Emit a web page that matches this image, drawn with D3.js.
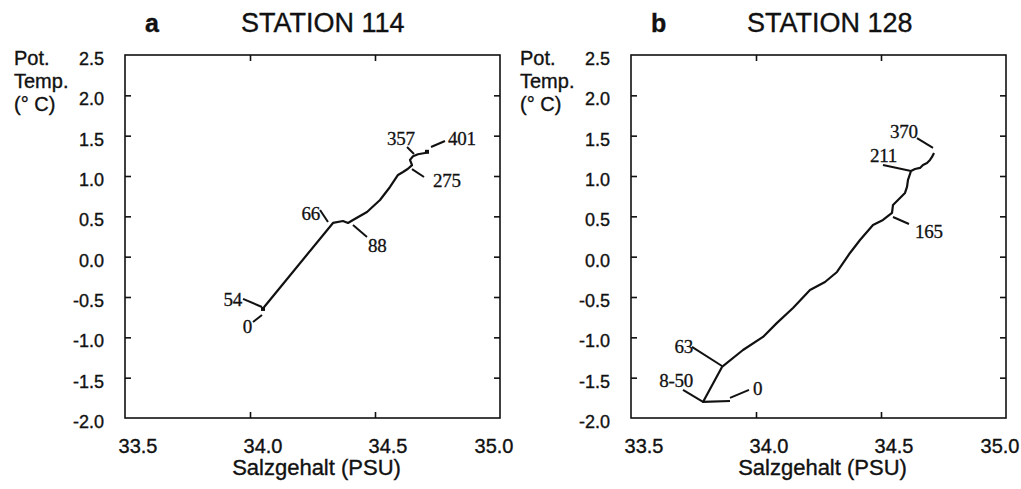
<!DOCTYPE html>
<html>
<head>
<meta charset="utf-8">
<script src="https://cdn.jsdelivr.net/npm/d3@7.9.0/dist/d3.min.js"></script>
<style>
  body { margin: 0; background: #fff; }
  svg { display: block; }
  .sans { font-family: "Liberation Sans", Arial, Helvetica, sans-serif; fill: #111; stroke: #111; stroke-width: 0.35; }
  .serif { font-family: "Liberation Serif", "Times New Roman", serif; fill: #111; stroke: #111; stroke-width: 0.3; }
</style>
</head>
<body>
<svg id="chart" width="1021" height="489"></svg>
<script>
// axes
const salinityTicks = [33.5, 34.0, 34.5, 35.0];
const tempTicks = [2.5, 2.0, 1.5, 1.0, 0.5, 0.0, -0.5, -1.0, -1.5, -2.0];

// station 114: T-S curve (surface -> deep)
const st114Salinity = [34.052, 34.06, 34.332, 34.372, 34.392, 34.412, 34.468, 34.52, 34.56, 34.592, 34.612, 34.632, 34.648, 34.64, 34.652, 34.672, 34.70, 34.708];
const st114Temp     = [-0.648, -0.611, 0.418, 0.442, 0.418, 0.455, 0.554, 0.703, 0.864, 1.013, 1.05, 1.09, 1.135, 1.20, 1.245, 1.27, 1.285, 1.30];
// depth labels (m) with leader lines
const st114Depths   = ["0", "54", "66", "88", "275", "357", "401"];
const st114LabelS   = [34.008, 33.968, 34.28, 34.472, 34.732, 34.548, 34.792];
const st114LabelT   = [-0.946, -0.611, 0.455, 0.058, 0.864, 1.385, 1.385];
const st114Anchor   = ["end", "end", "end", "start", "start", "start", "start"];
const st114LeadS1   = [34.012, 33.972, 34.28, 34.412, 34.648, 34.628, 34.724];
const st114LeadT1   = [-0.81, -0.524, 0.579, 0.393, 1.085, 1.36, 1.36];
const st114LeadS2   = [34.048, 34.048, 34.312, 34.468, 34.696, 34.656, 34.78];
const st114LeadT2   = [-0.723, -0.624, 0.43, 0.244, 0.988, 1.273, 1.434];

// station 128: T-S curve (surface -> deep)
const st128Salinity = [33.896, 33.788, 33.864, 33.948, 34.028, 34.084, 34.148, 34.216, 34.276, 34.324, 34.376, 34.416, 34.468, 34.508, 34.544, 34.548, 34.576, 34.596, 34.604, 34.608, 34.62, 34.636, 34.656, 34.668, 34.684, 34.696, 34.704, 34.712];
const st128Temp     = [-1.789, -1.801, -1.367, -1.157, -0.995, -0.821, -0.636, -0.413, -0.314, -0.19, 0.046, 0.207, 0.393, 0.455, 0.542, 0.641, 0.728, 0.79, 0.864, 0.951, 1.062, 1.087, 1.10, 1.137, 1.162, 1.199, 1.236, 1.285];
const st128Depths   = ["0", "8-50", "63", "165", "211", "370"];
const st128LabelS   = [33.988, 33.748, 33.748, 34.636, 34.456, 34.536];
const st128LabelT   = [-1.714, -1.615, -1.193, 0.232, 1.174, 1.47];
const st128Anchor   = ["start", "end", "end", "start", "start", "start"];
const st128LeadS1   = [33.896, 33.708, 33.744, 34.548, 34.508, 34.644];
const st128LeadT1   = [-1.751, -1.652, -1.119, 0.492, 1.137, 1.47];
const st128LeadS2   = [33.972, 33.788, 33.864, 34.612, 34.62, 34.708];
const st128LeadT2   = [-1.652, -1.801, -1.355, 0.405, 1.062, 1.348];

const svg = d3.select("#chart");

function drawPanel(letter, title, left, S, T, depths, labS, labT, anchors, s1, t1, s2, t2, dots) {
    const right = left + 375, top = 55, bottom = 418;
    const x = d3.scaleLinear().domain([33.5, 35.0]).range([left, right]);
    const y = d3.scaleLinear().domain([-2.0, 2.5]).range([bottom, top]);
    const g = svg.append("g");

    // frame
    g.append("rect")
        .attr("x", left).attr("y", top)
        .attr("width", right - left).attr("height", bottom - top)
        .attr("fill", "none").attr("stroke", "#111").attr("stroke-width", 1.6);

    // inner ticks on all four sides
    const inner = salinityTicks.slice(1, -1);
    const ax = [
        [d3.axisBottom(x).tickValues(inner), bottom],
        [d3.axisTop(x).tickValues(inner), top]
    ];
    ax.forEach(([a, ty]) => {
        g.append("g").attr("transform", `translate(0,${ty})`)
            .call(a.tickSizeInner(-6).tickSizeOuter(0).tickFormat(""))
            .call(s => s.select(".domain").remove())
            .selectAll("line").attr("stroke", "#111").attr("stroke-width", 1.6);
    });
    const ay = [
        [d3.axisLeft(y).tickValues(tempTicks.slice(1, -1)), left],
        [d3.axisRight(y).tickValues(tempTicks.slice(1, -1)), right]
    ];
    ay.forEach(([a, tx]) => {
        g.append("g").attr("transform", `translate(${tx},0)`)
            .call(a.tickSizeInner(-6).tickSizeOuter(0).tickFormat(""))
            .call(s => s.select(".domain").remove())
            .selectAll("line").attr("stroke", "#111").attr("stroke-width", 1.6);
    });

    // tick labels
    g.selectAll(".ylab").data(tempTicks).join("text")
        .attr("class", "sans")
        .attr("x", left - 21).attr("y", d => y(d) + 10)
        .attr("text-anchor", "end").attr("font-size", 18)
        .text(d => d.toFixed(1));
    g.selectAll(".xlab").data(salinityTicks).join("text")
        .attr("class", "sans")
        .attr("x", d => Math.min(x(d) + 13, right - 6)).attr("y", 453)
        .attr("text-anchor", "middle").attr("font-size", 20)
        .text(d => d.toFixed(1));

    // axis titles
    g.append("text").attr("class", "sans")
        .attr("x", (left + right) / 2 + 4).attr("y", 475)
        .attr("text-anchor", "middle").attr("font-size", 22)
        .text("Salzgehalt (PSU)");
    ["Pot.", "Temp.", "(° C)"].forEach((t, i) => {
        g.append("text").attr("class", "sans")
            .attr("x", left - 111).attr("y", 65 + i * 23)
            .attr("font-size", 20).text(t);
    });

    // panel title
    g.append("text").attr("class", "sans")
        .attr("x", left + 20).attr("y", 32)
        .attr("font-size", 25).attr("font-weight", "bold").text(letter);
    g.append("text").attr("class", "sans")
        .attr("x", left + 116).attr("y", 32)
        .attr("font-size", 27).text(title);

    // T-S curve
    const pts = d3.zip(S, T);
    const line = d3.line().x(d => x(d[0])).y(d => y(d[1]));
    g.append("path")
        .attr("d", line(pts))
        .attr("fill", "none").attr("stroke", "#111")
        .attr("stroke-width", 2.2).attr("stroke-linejoin", "round");

    // small sample marks at the ends of the profile
    if (dots) {
        g.selectAll(".end").data([pts[0], pts[pts.length - 1]]).join("rect")
            .attr("x", d => x(d[0]) - 2).attr("y", d => y(d[1]) - 2)
            .attr("width", 4).attr("height", 4).attr("fill", "#111");
    }

    // depth leader lines + labels
    g.selectAll(".lead").data(depths).join("line")
        .attr("x1", (d, i) => x(s1[i])).attr("y1", (d, i) => y(t1[i]))
        .attr("x2", (d, i) => x(s2[i])).attr("y2", (d, i) => y(t2[i]))
        .attr("stroke", "#111").attr("stroke-width", 2);
    g.selectAll(".dlab").data(depths).join("text")
        .attr("class", "serif")
        .attr("x", (d, i) => x(labS[i])).attr("y", (d, i) => y(labT[i]))
        .attr("text-anchor", (d, i) => anchors[i])
        .attr("font-size", 19).attr("letter-spacing", -0.3)
        .text(d => d);
}

drawPanel("a", "STATION 114", 125, st114Salinity, st114Temp, st114Depths,
    st114LabelS, st114LabelT, st114Anchor, st114LeadS1, st114LeadT1, st114LeadS2, st114LeadT2, true);
drawPanel("b", "STATION 128", 631, st128Salinity, st128Temp, st128Depths,
    st128LabelS, st128LabelT, st128Anchor, st128LeadS1, st128LeadT1, st128LeadS2, st128LeadT2, false);
</script>
</body>
</html>
